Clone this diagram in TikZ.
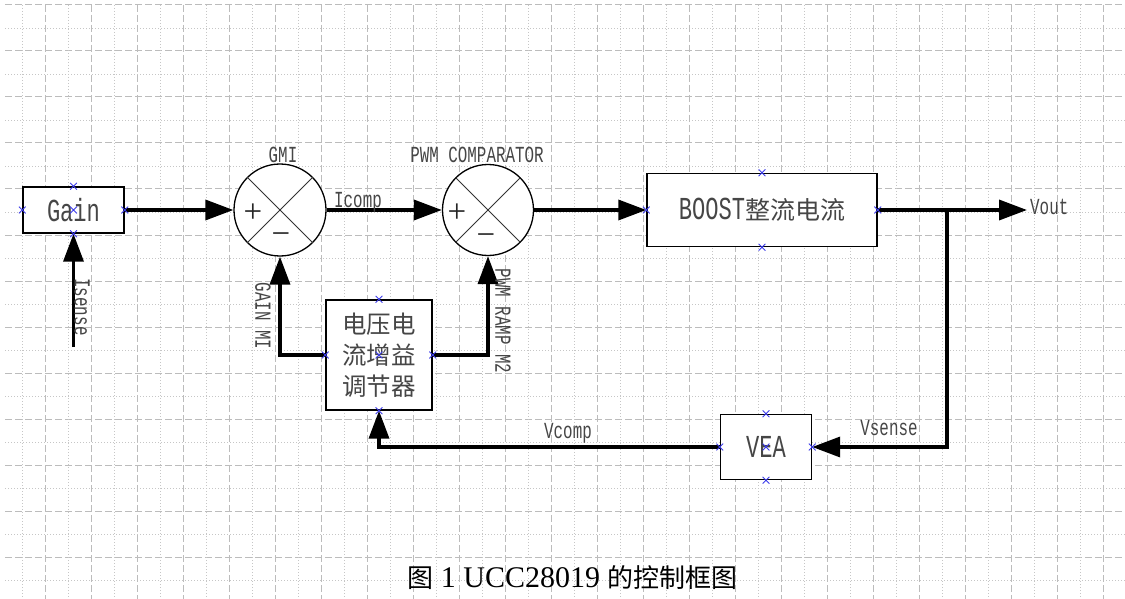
\documentclass[tikz,border=0pt]{standalone}
\usepackage{fontspec}
\setmainfont{Liberation Serif}
\newfontfamily\monof[FakeStretch=0.69]{Liberation Mono}
\newfontfamily\cjk{Noto Sans CJK SC}
\usetikzlibrary{arrows.meta,shapes.misc}
\definecolor{txtgray}{RGB}{70,70,70}
\definecolor{gridmaj}{RGB}{188,188,188}
\definecolor{gridmin}{RGB}{198,198,198}
\definecolor{mkblue}{RGB}{60,60,235}
\begin{document}
\begin{tikzpicture}[x=1pt,y=-1pt,
  block/.style={draw=black, line width=1.4pt, fill=white, inner sep=0pt, text=txtgray},
  sumc/.style={circle, draw=black, line width=1.3pt, fill=white, inner sep=0pt},
  conn/.style={line width=3.5pt, -{Triangle[length=28pt,width=20pt]}},
  lbl/.style={font=\monof\fontsize{23}{27}\selectfont, text=txtgray, inner sep=0pt},
  mk/.style={draw=mkblue, cross out, minimum size=6pt, inner sep=0pt, line width=0.8pt},
  sign/.style={font=\fontsize{33}{36}\selectfont, inner sep=0pt, text=black!85},
  gmaj/.style={draw=gridmaj, line width=1pt, dash pattern=on 7pt off 3pt},
  gmin/.style={draw=gridmin, line width=0.9pt, dash pattern=on 1pt off 2pt},
]
\useasboundingbox (0,0) rectangle (1125,599);
\fill[white] (0,0) rectangle (1125,599);
% grid
\foreach \k in {0,...,12} {
  \draw[gmin] (5,28+46*\k) -- (1125,28+46*\k);
  \draw[gmaj] (5,5+46*\k) -- (1125,5+46*\k);
}
\foreach \k in {0,...,23} {
  \draw[gmin] (22.5+46*\k,5) -- (22.5+46*\k,599);
  \draw[gmaj] (45.5+46*\k,5) -- (45.5+46*\k,599);
}

% blocks
\node[block, minimum width=101pt, minimum height=46pt, font=\monof\fontsize{32}{36}\selectfont] (gain) at (73.5,210) {Gain};
\node[sumc, minimum size=92pt] (gmi) at (280,210) {};
\node[sumc, minimum size=91pt] (pwm) at (488,210) {};
\node[block, minimum width=230pt, minimum height=73pt] (boost) at (762,210)
  {{\monof\fontsize{32}{36}\selectfont BOOST}{\cjk\fontsize{25}{30}\selectfont 整流电流}};
\node[block, minimum width=106pt, minimum height=110pt, align=center,
  font=\cjk\fontsize{24.5}{31}\selectfont] (mid) at (379,355) {电压电\\流增益\\调节器};
\node[block, minimum width=91pt, minimum height=65pt, font=\monof\fontsize{32}{36}\selectfont] (vea) at (766,447) {VEA};

% summing junction crosses and signs
\foreach \c in {gmi,pwm} {
  \draw[line width=0.9pt, black!80] (\c.45) -- (\c.225);
  \draw[line width=0.9pt, black!80] (\c.135) -- (\c.315);
}
\node[sign] (gmiplus) at ([shift={(-27,3)}]gmi.center) {+};
\node[sign] (gmiminus) at ([shift={(1,29)}]gmi.center) {\char"2212};
\node[sign] (pwmplus) at ([shift={(-31,3)}]pwm.center) {+};
\node[sign] (pwmminus) at ([shift={(-2,30)}]pwm.center) {\char"2212};

% coordinates
\coordinate (isrc) at (73.5,347);
\coordinate (vout) at (1027,210);
\coordinate (tap) at (947,210);

% connectors
\draw[conn] (isrc) -- (gain.south);
\draw[conn] (gain.east) -- (gmi.west);
\draw[conn] (gmi.east) -- (pwm.west);
\draw[conn] (pwm.east) -- (boost.west);
\draw[conn] (boost.east) -- (vout);
\draw[conn] (tap) |- (vea.east);
\draw[conn] (vea.west) -| (mid.south);
\draw[conn] (mid.west) -| (gmi.south);
\draw[conn] (mid.east) -| (pwm.south);

% markers
\foreach \n in {gain,mid,vea} {
  \foreach \a in {north,south,east,west,center} {
    \node[mk] (\n-\a-mk) at (\n.\a) {};
  }
}
\foreach \a in {north,south,east,west} {
  \node[mk] (boost-\a-mk) at (boost.\a) {};
}

% labels
\node[lbl] (lgmi) at (283,155) {GMI};
\node[lbl] (lpwm) at (477,155) {PWM COMPARATOR};
\node[lbl] (licomp) at (358,202) {Icomp};
\node[lbl, anchor=west] (lvout) at (1030,207) {Vout};
\node[lbl] (lvsense) at (889,428) {Vsense};
\node[lbl] (lvcomp) at (568,433) {Vcomp};
\node[lbl, rotate=-90] (lisense) at (82,307) {Isense};
\node[lbl, rotate=-90] (lgainmi) at (263,316) {GAIN MI};
\node[lbl, rotate=-90] (lramp) at (503,321) {PWM RAMP M2};

% caption
\node[anchor=base, inner sep=0pt, text=black, font=\fontsize{30}{36}\selectfont] (cap) at (572.5,587)
  {{\cjk\fontsize{26}{30}\selectfont 图} 1 UCC28019 {\cjk\fontsize{26}{30}\selectfont 的控制框图}};
\end{tikzpicture}
\end{document}
